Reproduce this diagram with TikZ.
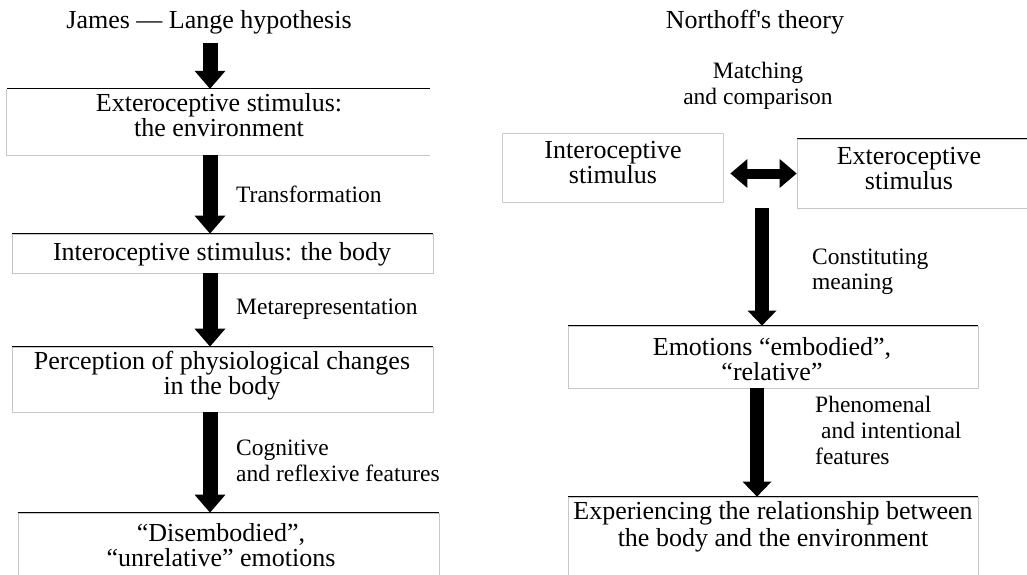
\documentclass[tikz,border=0pt]{standalone}
\usepackage{fontspec}
\setmainfont{Liberation Serif}
\usetikzlibrary{arrows.meta}
\newcommand\mlc[1]{\vtop{\lineskiplimit=-\maxdimen\lineskip=0pt\halign{\hfil##\hfil\cr#1\crcr}}}
\newcommand\mll[1]{\vtop{\lineskiplimit=-\maxdimen\lineskip=0pt\halign{##\hfil\cr#1\crcr}}}
\begin{document}
\begin{tikzpicture}[x=1pt,y=-1pt,
  boxfr/.style={rectangle, inner sep=0pt, draw=gray!45, line width=0.8pt},
  topln/.style={draw=black, line width=0.9pt},
  sideln/.style={draw=gray!45, line width=0.8pt},
  btxt/.style={anchor=base, inner sep=0pt, font=\fontsize{26}{25.5}\selectfont},
  ltxt/.style={anchor=base west, inner sep=0pt, font=\fontsize{23.5}{26}\selectfont},
  ctxt/.style={anchor=base, inner sep=0pt, font=\fontsize{23.5}{26}\selectfont},
  bigarr/.style={line width=15pt, -{Triangle[width=31pt,length=18pt,line width=0pt]}},
  rarr/.style={line width=14pt, -{Triangle[width=29pt,length=15pt,line width=0pt]}},
  dblarr/.style={line width=10pt, {Triangle[width=29pt,length=17pt,line width=0pt]}-{Triangle[width=29pt,length=17pt,line width=0pt]}}
]
\useasboundingbox (0,0) rectangle (1027,575);
\clip (0,0) rectangle (1027,575);
\fill[white] (0,0) rectangle (1027,575);

% titles
\node[btxt] (tl) at (209,29) {James \textemdash{} Lange hypothesis};
\node[btxt] (tr) at (755,29) {Northoff\textquotesingle s theory};

% left column boxes
\node[rectangle, inner sep=0pt, minimum width=423pt, minimum height=66pt] (b1) at (218.5,122) {};
\draw[sideln] (b1.north west) -- (b1.south west) -- (b1.south east);
\draw[topln] (b1.north west) -- (b1.north east);
\node[boxfr, minimum width=421pt, minimum height=39pt] (b2) at (222.5,253.5) {};
\draw[topln] (b2.north west) -- (b2.north east);
\node[boxfr, minimum width=421pt, minimum height=65pt] (b3) at (222.5,379.5) {};
\draw[topln] (b3.north west) -- (b3.north east);
\node[boxfr, minimum width=421pt, minimum height=87pt] (b4) at (228.5,556.5) {};
\draw[topln] (b4.north west) -- (b4.north east);

\node[btxt] (t1) at (219,111) {\mlc{Exteroceptive stimulus:\cr the environment}};
\node[btxt] (t2) at (222,260) {Interoceptive stimulus: the body};
\node[btxt] (t3) at (222,369) {\mlc{Perception of physiological changes\cr in the body}};
\node[btxt] (t4) at (221,541) {\mlc{“Disembodied”,\cr “unrelative” emotions}};

% left arrows
\coordinate (a0) at (210,43);
\coordinate (ax) at (210,0);
\draw[bigarr] (a0) -- (b1.north -| a0);
\draw[bigarr] (b1.south -| ax) -- (b2.north -| ax);
\draw[bigarr] (b2.south -| ax) -- (b3.north -| ax);
\draw[bigarr] (b3.south -| ax) -- (b4.north -| ax);

\node[ltxt] (l1) at (236,202) {Transformation};
\node[ltxt] (l2) at (236,314) {Metarepresentation};
\node[ltxt] (l3) at (236,455) {\mll{Cognitive\cr and reflexive features}};

% right column
\node[ctxt] (lm) at (758,79) {\mlc{Matching\cr and comparison}};
\node[rectangle, inner sep=0pt, draw=gray!40, line width=0.8pt, minimum width=221pt, minimum height=69pt] (r1) at (612.5,167.5) {};
\node[boxfr, minimum width=243pt, minimum height=69pt] (r2) at (918.5,173.5) {};
\draw[topln] (r2.north west) -- (r2.north east);
\node[btxt] (ti) at (613,158) {\mlc{Interoceptive\cr stimulus}};
\node[btxt] (te) at (909,164) {\mlc{Exteroceptive\cr stimulus}};
\draw[dblarr, shorten <=7pt] (r1.east |- r2.west) -- (r2.west);

\node[boxfr, minimum width=410pt, minimum height=62pt] (r3) at (773,357) {};
\draw[topln] (r3.north west) -- (r3.north east);
\node[btxt] (tm) at (772,355) {\mlc{Emotions “embodied”,\cr “relative”}};
\node[boxfr, minimum width=410pt, minimum height=103pt] (r4) at (773,548.5) {};
\draw[topln] (r4.north west) -- (r4.north east);
\node[btxt, font=\fontsize{26}{27}\selectfont] (tx) at (773,519) {\mlc{Experiencing the relationship between\cr the body and the environment}};

\coordinate (rs) at (762,208);
\coordinate (rx) at (757,0);
\draw[rarr] (rs) -- (r3.north -| rs);
\draw[rarr] (r3.south -| rx) -- (r4.north -| rx);

\node[ltxt, font=\fontsize{23.5}{25}\selectfont] (l4) at (812,264) {\mll{Constituting\cr meaning}};
\node[ltxt] (l5) at (815,412) {\mll{Phenomenal\cr \kern6pt and intentional\cr features}};
\end{tikzpicture}
\end{document}
